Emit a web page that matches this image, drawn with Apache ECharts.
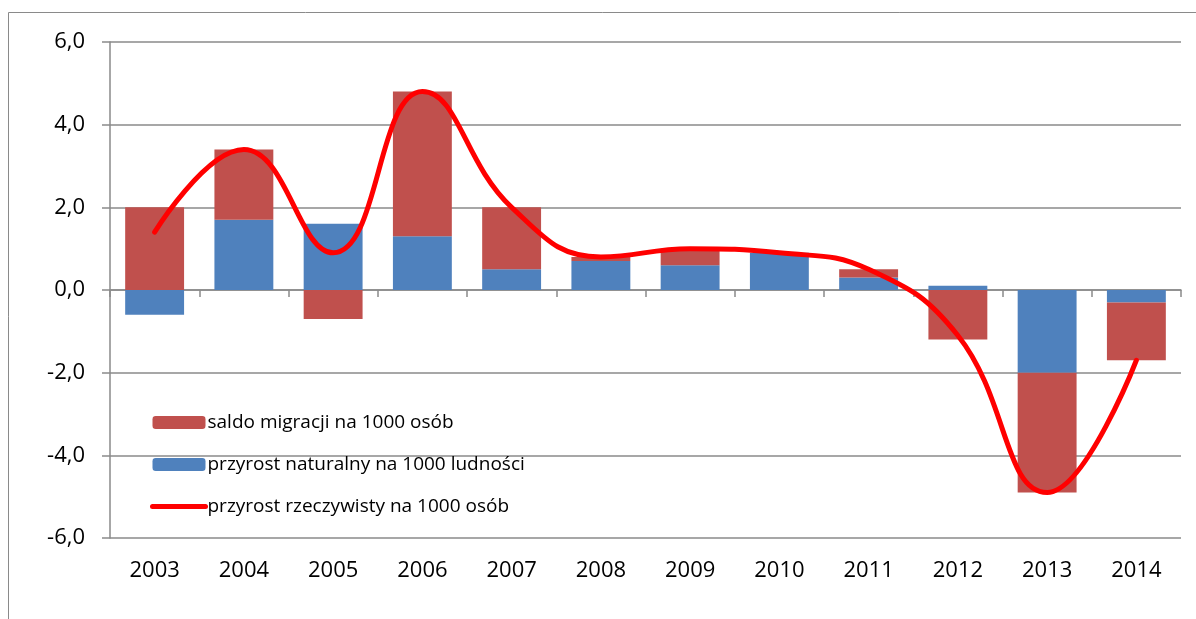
<!DOCTYPE html>
<html>
<head>
<meta charset="utf-8">
<script src="https://cdn.jsdelivr.net/npm/echarts@6/dist/echarts.min.js"></script>
<style>
  html, body { margin: 0; padding: 0; background: #fff; }
  #main { width: 1196px; height: 619px; }
</style>
</head>
<body>
<div id="main"></div>
<script>
// lata
var years = ['2003', '2004', '2005', '2006', '2007', '2008', '2009', '2010', '2011', '2012', '2013', '2014'];
// przyrost naturalny na 1000 ludności
var naturalny = [-0.6, 1.7, 1.6, 1.3, 0.5, 0.7, 0.6, 0.9, 0.3, 0.1, -2.0, -0.3];
// saldo migracji na 1000 osób
var migracja = [2.0, 1.7, -0.7, 3.5, 1.5, 0.1, 0.4, 0.0, 0.2, -1.2, -2.9, -1.4];
// przyrost rzeczywisty na 1000 osób
var rzeczywisty = [1.4, 3.4, 0.9, 4.8, 2.0, 0.8, 1.0, 0.9, 0.5, -1.1, -4.9, -1.7];

var FONT = '"Open Sans", sans-serif';
var GRAY = '#8a8a8a';

var myChart = echarts.init(document.getElementById('main'));

var option = {
  animation: false,
  textStyle: { fontFamily: FONT },
  graphic: [{
    type: 'rect',
    shape: { x: 8.5, y: 12.5, width: 1400, height: 800 },
    style: { fill: 'none', stroke: GRAY, lineWidth: 1 },
    silent: true
  }],
  grid: { left: 110, right: 15, top: 42, bottom: 81 },
  legend: {
    orient: 'vertical',
    left: 150,
    top: 413,
    padding: 0,
    itemWidth: 53,
    itemHeight: 13,
    itemGap: 23,
    textStyle: { fontFamily: FONT, fontSize: 19, color: '#000', padding: [0, 0, 0, -3] },
    data: [
      'saldo migracji na 1000 osób',
      'przyrost naturalny na 1000 ludności',
      {
        name: 'przyrost rzeczywisty na 1000 osób',
        itemStyle: { opacity: 0 },
        lineStyle: { width: 5, cap: 'round', color: '#FF0000' }
      }
    ]
  },
  xAxis: [{
    type: 'category',
    data: years,
    axisLine: { onZero: true, lineStyle: { color: GRAY, width: 1.5 } },
    axisTick: { show: true, length: 7, lineStyle: { color: GRAY, width: 1.5 } },
    axisLabel: { show: false }
  }, {
    type: 'category',
    data: years,
    position: 'bottom',
    axisLine: { show: false, onZero: false },
    axisTick: { show: false },
    axisLabel: { fontFamily: FONT, fontSize: 22, color: '#000', margin: 22 }
  }],
  yAxis: {
    type: 'value',
    min: -6,
    max: 6,
    interval: 2,
    axisLine: { show: true, lineStyle: { color: GRAY, width: 1.5 } },
    axisTick: { show: true, length: 8, lineStyle: { color: GRAY, width: 1.5 } },
    axisLabel: {
      fontFamily: FONT, fontSize: 22, color: '#000', margin: 25,
      formatter: function (v) { return v.toFixed(1).replace('.', ','); }
    },
    splitLine: { lineStyle: { color: GRAY, width: 1.5 } }
  },
  series: [
    {
      name: 'przyrost naturalny na 1000 ludności',
      type: 'bar',
      stack: 'przyrost',
      barWidth: '66%',
      itemStyle: { color: '#4F81BD' },
      data: naturalny
    },
    {
      name: 'saldo migracji na 1000 osób',
      type: 'bar',
      stack: 'przyrost',
      barWidth: '66%',
      itemStyle: { color: '#C0504D' },
      data: migracja
    },
    {
      name: 'przyrost rzeczywisty na 1000 osób',
      type: 'line',
      smooth: 0.45,
      symbol: 'none',
      z: 5,
      lineStyle: { color: '#FF0000', width: 5, cap: 'round' },
      itemStyle: { color: '#FF0000' },
      data: rzeczywisty
    }
  ]
};

myChart.setOption(option);
</script>
</body>
</html>
